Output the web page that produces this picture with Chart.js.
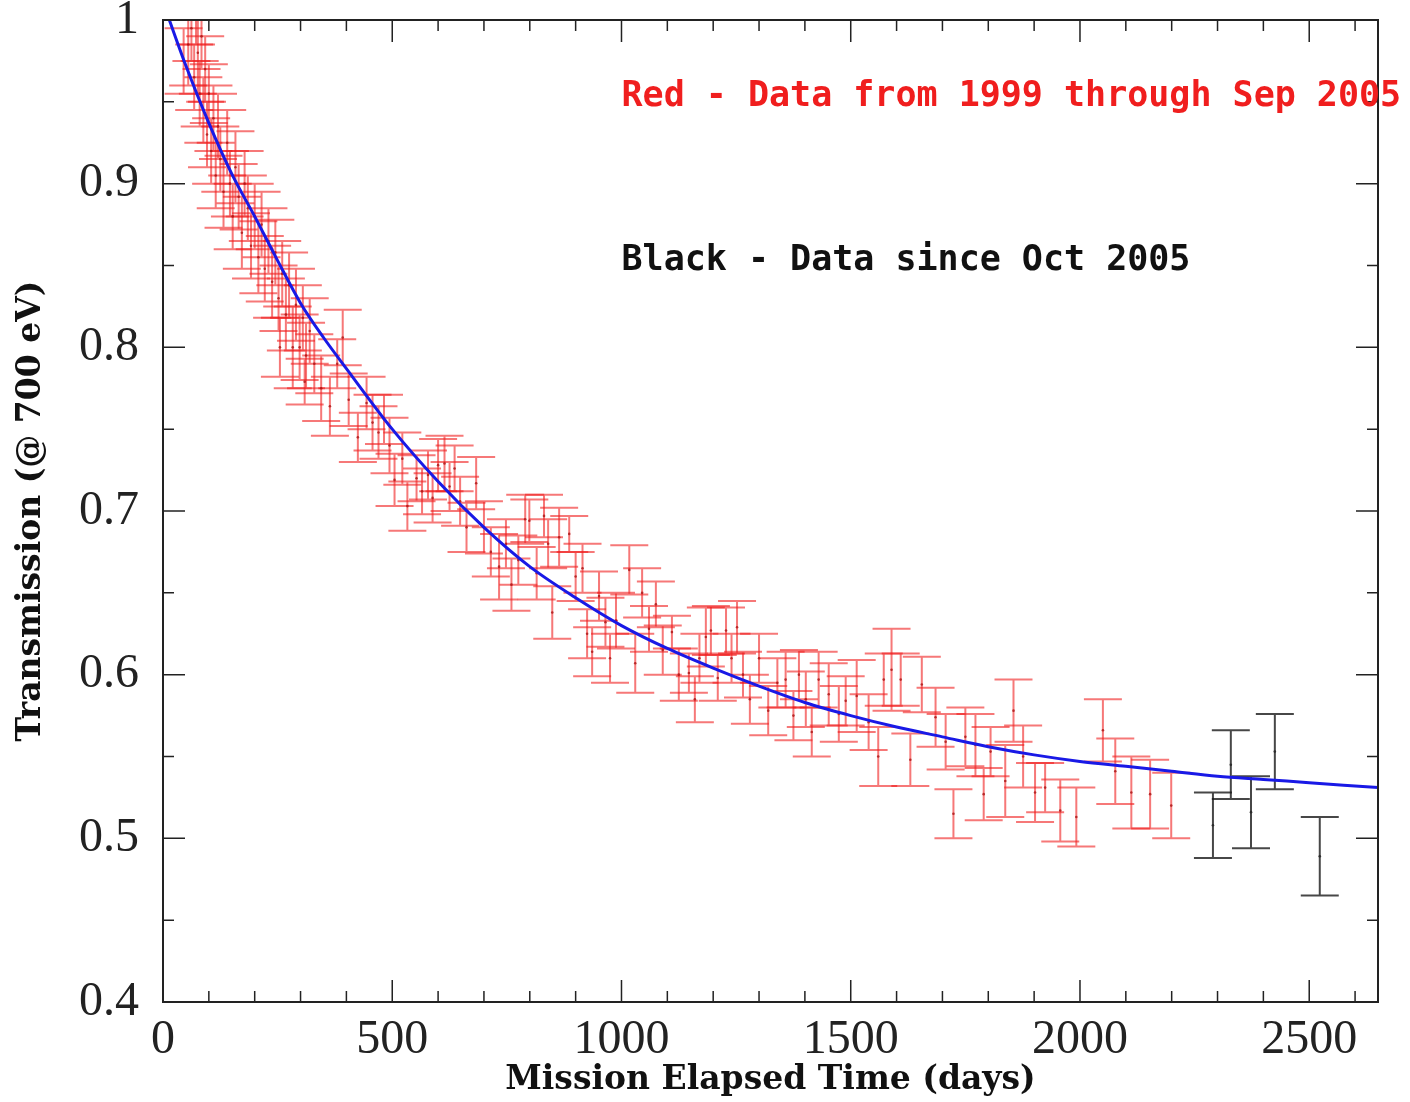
<!DOCTYPE html>
<html>
<head>
<meta charset="utf-8">
<script src="https://cdn.jsdelivr.net/npm/chart.js@4"></script>
<style>
  html, body { margin: 0; padding: 0; background: #fff; }
  #wrap { width: 1410px; height: 1102px; }
</style>
</head>
<body>
<div id="wrap"><canvas id="transmission" width="1410" height="1102"></canvas></div>
<script>
// fitted curve
const fitDays = [10, 50, 100, 150, 200, 250, 300, 350, 400, 500, 600, 700, 800, 900, 1000, 1100, 1200, 1300, 1400, 1500, 1600, 1700, 1800, 1900, 2000, 2100, 2200, 2300, 2400, 2500, 2650];
const fitTrans = [1.003, 0.972, 0.937, 0.906, 0.880, 0.853, 0.827, 0.806, 0.787, 0.750, 0.718, 0.690, 0.666, 0.647, 0.630, 0.616, 0.604, 0.593, 0.583, 0.575, 0.568, 0.562, 0.556, 0.551, 0.547, 0.544, 0.541, 0.538, 0.536, 0.534, 0.531];

// red: 1999 through Sep 2005
const redDays = [45, 55, 62, 68, 72, 76, 80, 84, 88, 92, 96, 100, 105, 110, 115, 120, 125, 132, 140, 146, 152, 158, 165, 172, 178, 185, 192, 200, 208, 215, 222, 230, 238, 245, 252, 255, 260, 268, 275, 283, 290, 298, 305, 309, 312, 320, 330, 345, 364, 380, 392, 405, 425, 444, 457, 470, 482, 494, 505, 522, 533, 553, 565, 578, 588, 600, 614, 625, 636, 648, 662, 683, 700, 715, 733, 748, 760, 775, 790, 799, 815, 831, 840, 849, 864, 886, 900, 915, 925, 936, 951, 965, 975, 988, 1017, 1030, 1045, 1060, 1075, 1090, 1110, 1125, 1147, 1160, 1170, 1184, 1195, 1210, 1228, 1240, 1252, 1265, 1280, 1300, 1320, 1340, 1358, 1375, 1387, 1402, 1415, 1430, 1452, 1474, 1489, 1513, 1539, 1560, 1572, 1589, 1609, 1630, 1655, 1685, 1707, 1724, 1750, 1772, 1790, 1805, 1837, 1855, 1876, 1902, 1924, 1957, 1992, 2050, 2077, 2112, 2153, 2199];
const redTrans = [0.975, 0.985, 0.995, 0.965, 1.005, 0.98, 0.955, 0.99, 0.945, 0.97, 0.93, 0.955, 0.92, 0.94, 0.905, 0.935, 0.915, 0.895, 0.925, 0.90, 0.88, 0.91, 0.892, 0.87, 0.90, 0.885, 0.862, 0.88, 0.855, 0.875, 0.848, 0.865, 0.84, 0.858, 0.83, 0.80, 0.845, 0.82, 0.838, 0.80, 0.826, 0.80, 0.818, 0.779, 0.795, 0.81, 0.79, 0.775, 0.764, 0.79, 0.806, 0.768, 0.745, 0.766, 0.754, 0.748, 0.756, 0.74, 0.719, 0.732, 0.703, 0.72, 0.712, 0.722, 0.708, 0.728, 0.729, 0.715, 0.726, 0.706, 0.69, 0.717, 0.69, 0.675, 0.666, 0.68, 0.655, 0.67, 0.695, 0.694, 0.662, 0.697, 0.68, 0.638, 0.684, 0.686, 0.66, 0.665, 0.625, 0.614, 0.648, 0.632, 0.61, 0.633, 0.664, 0.607, 0.65, 0.628, 0.643, 0.615, 0.626, 0.60, 0.601, 0.585, 0.61, 0.623, 0.627, 0.598, 0.627, 0.61, 0.629, 0.60, 0.585, 0.61, 0.578, 0.595, 0.597, 0.575, 0.60, 0.585, 0.565, 0.597, 0.588, 0.576, 0.584, 0.587, 0.571, 0.55, 0.597, 0.603, 0.597, 0.548, 0.594, 0.574, 0.559, 0.515, 0.562, 0.557, 0.527, 0.553, 0.535, 0.578, 0.55, 0.528, 0.531, 0.517, 0.513, 0.566, 0.541, 0.528, 0.527, 0.52];
const redErr = [0.02, 0.025, 0.02, 0.02, 0.02, 0.025, 0.02, 0.02, 0.02, 0.02, 0.02, 0.018, 0.02, 0.02, 0.02, 0.02, 0.02, 0.022, 0.02, 0.02, 0.02, 0.022, 0.02, 0.022, 0.02, 0.02, 0.02, 0.02, 0.022, 0.02, 0.02, 0.02, 0.022, 0.02, 0.02, 0.018, 0.02, 0.022, 0.02, 0.025, 0.022, 0.02, 0.02, 0.014, 0.02, 0.02, 0.018, 0.02, 0.018, 0.015, 0.017, 0.016, 0.015, 0.016, 0.017, 0.016, 0.015, 0.017, 0.016, 0.016, 0.015, 0.014, 0.014, 0.015, 0.015, 0.016, 0.017, 0.015, 0.014, 0.015, 0.015, 0.016, 0.016, 0.015, 0.02, 0.015, 0.016, 0.015, 0.015, 0.013, 0.016, 0.013, 0.015, 0.016, 0.018, 0.011, 0.015, 0.015, 0.015, 0.015, 0.015, 0.015, 0.015, 0.017, 0.015, 0.018, 0.015, 0.014, 0.014, 0.015, 0.01, 0.016, 0.012, 0.014, 0.015, 0.018, 0.015, 0.014, 0.014, 0.015, 0.016, 0.014, 0.015, 0.015, 0.015, 0.015, 0.017, 0.015, 0.015, 0.017, 0.015, 0.017, 0.019, 0.017, 0.015, 0.022, 0.017, 0.018, 0.016, 0.025, 0.016, 0.016, 0.017, 0.018, 0.017, 0.015, 0.018, 0.019, 0.016, 0.015, 0.022, 0.019, 0.019, 0.018, 0.015, 0.019, 0.018, 0.019, 0.02, 0.022, 0.021, 0.02];

// black: since Oct 2005
const blackDays = [2290, 2329, 2373, 2425, 2523];
const blackTrans = [0.508, 0.545, 0.516, 0.553, 0.489];
const blackErr = [0.020, 0.021, 0.022, 0.023, 0.024];

const xTickValues = [0, 500, 1000, 1500, 2000, 2500];
const xTickLabels = ["0", "500", "1000", "1500", "2000", "2500"];
const yTickLabels = ["0.4", "0.5", "0.6", "0.7", "0.8", "0.9", "1"];

const CAP = 19;

const toPoints = (xs, ys) => xs.map((d, i) => ({ x: d, y: ys[i] }));

const errorBars = {
  id: "errorBars",
  beforeDatasetsDraw(chart) {
    const { ctx, chartArea: a, scales: { x, y } } = chart;
    ctx.save();
    ctx.beginPath();
    ctx.rect(a.left, a.top, a.width, a.height);
    ctx.clip();
    ctx.lineWidth = 2;
    chart.data.datasets.forEach((ds) => {
      if (!ds.errors) return;
      ctx.strokeStyle = ds.barColor;
      ds.data.forEach((p, i) => {
        const px = x.getPixelForValue(p.x);
        const top = y.getPixelForValue(p.y + ds.errors[i]);
        const bot = y.getPixelForValue(p.y - ds.errors[i]);
        ctx.beginPath();
        ctx.moveTo(px, top);
        ctx.lineTo(px, bot);
        ctx.moveTo(px - CAP, top);
        ctx.lineTo(px + CAP, top);
        ctx.moveTo(px - CAP, bot);
        ctx.lineTo(px + CAP, bot);
        ctx.stroke();
      });
    });
    ctx.restore();
  },
};

const frame = {
  id: "frame",
  afterDraw(chart) {
    const { ctx, chartArea: a, scales: { x, y } } = chart;
    ctx.save();
    ctx.strokeStyle = "#222";
    ctx.lineWidth = 1.5;
    ctx.beginPath();
    for (let d = 0; d <= x.max; d += 100) {
      const px = x.getPixelForValue(d);
      const len = d % 500 === 0 ? 22 : 11;
      ctx.moveTo(px, a.bottom);
      ctx.lineTo(px, a.bottom - len);
      ctx.moveTo(px, a.top);
      ctx.lineTo(px, a.top + len);
    }
    for (let k = 0; k <= 12; k++) {
      const py = y.getPixelForValue(0.4 + k * 0.05);
      const len = k % 2 === 0 ? 22 : 11;
      ctx.moveTo(a.left, py);
      ctx.lineTo(a.left + len, py);
      ctx.moveTo(a.right, py);
      ctx.lineTo(a.right - len, py);
    }
    ctx.stroke();
    ctx.lineWidth = 2;
    ctx.strokeRect(a.left, a.top, a.width, a.height);

    ctx.font = "bold 35px 'DejaVu Sans Mono'";
    ctx.textBaseline = "alphabetic";
    ctx.textAlign = "left";
    ctx.fillStyle = "rgb(240,30,30)";
    ctx.fillText("Red - Data from 1999 through Sep 2005", x.getPixelForValue(1000), y.getPixelForValue(0.9475));
    ctx.fillStyle = "#111";
    ctx.fillText("Black - Data since Oct 2005", x.getPixelForValue(1000), y.getPixelForValue(0.847));
    ctx.restore();
  },
};

new Chart(document.getElementById("transmission"), {
  type: "scatter",
  data: {
    datasets: [
      {
        type: "line",
        label: "fit",
        data: toPoints(fitDays, fitTrans),
        borderColor: "rgb(25,25,230)",
        borderWidth: 3,
        pointRadius: 0,
        tension: 0.4,
        cubicInterpolationMode: "monotone",
        fill: false,
        order: 0,
      },
      {
        label: "Red - Data from 1999 through Sep 2005",
        data: toPoints(redDays, redTrans),
        errors: redErr,
        barColor: "rgba(240,30,30,0.6)",
        pointRadius: 1.3,
        pointBackgroundColor: "rgba(170,20,20,0.8)",
        pointBorderWidth: 0,
        order: 1,
      },
      {
        label: "Black - Data since Oct 2005",
        data: toPoints(blackDays, blackTrans),
        errors: blackErr,
        barColor: "rgba(25,25,25,0.8)",
        pointRadius: 1.3,
        pointBackgroundColor: "rgba(40,40,40,0.9)",
        pointBorderWidth: 0,
        order: 1,
      },
    ],
  },
  options: {
    responsive: false,
    animation: false,
    devicePixelRatio: 1,
    layout: { padding: { top: 20, right: 32, left: 0, bottom: 0 } },
    plugins: {
      legend: { display: false },
      tooltip: { enabled: false },
    },
    scales: {
      x: {
        type: "linear",
        min: 0,
        max: 2650,
        grid: { display: false, drawTicks: false },
        border: { display: false },
        afterBuildTicks(scale) {
          scale.ticks = xTickValues.map((v) => ({ value: v }));
        },
        ticks: {
          maxRotation: 0,
          autoSkip: false,
          padding: 10,
          color: "#222",
          font: { family: "'Liberation Serif'", size: 48 },
          callback: (v, i) => xTickLabels[i],
        },
        title: {
          display: true,
          text: "Mission Elapsed Time (days)",
          color: "#111",
          font: { family: "'DejaVu Serif'", size: 33, weight: "bold" },
          padding: { top: 0, bottom: 2 },
        },
        afterFit(scale) {
          scale.height = 100;
          scale.paddingLeft = 0;
          scale.paddingRight = 0;
        },
      },
      y: {
        type: "linear",
        min: 0.4,
        max: 1,
        grid: { display: false, drawTicks: false },
        border: { display: false },
        ticks: {
          stepSize: 0.1,
          padding: 24,
          color: "#222",
          font: { family: "'Liberation Serif'", size: 48 },
          callback: (v, i) => yTickLabels[i],
        },
        title: {
          display: true,
          text: "Transmission (@ 700 eV)",
          color: "#111",
          font: { family: "'DejaVu Serif'", size: 33, weight: "bold" },
          padding: { top: 12, bottom: 0 },
        },
        afterFit(scale) {
          scale.width = 163;
          scale.paddingTop = 0;
          scale.paddingBottom = 0;
        },
      },
    },
  },
  plugins: [errorBars, frame],
});
</script>
</body>
</html>
